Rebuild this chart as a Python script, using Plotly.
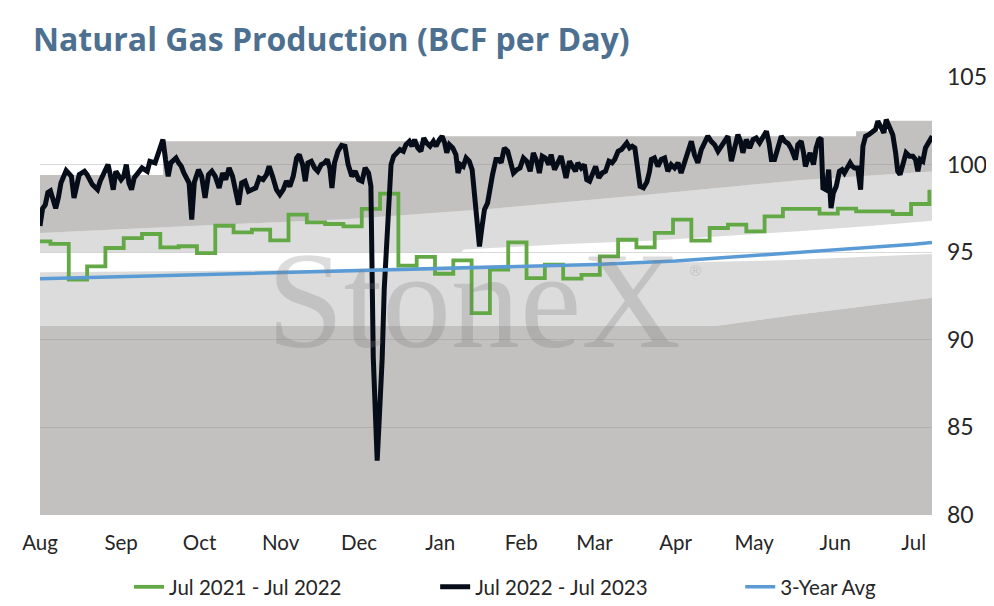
import plotly.graph_objects as go
import pandas as pd

# x positions are days since 1 Aug 2022 (the chart runs Aug -> early Jul)
start = pd.Timestamp("2022-08-01")

# Jul 2022 - Jul 2023 (daily)
black_days = [0, 1, 2, 3, 4, 5, 6, 7, 8, 10, 12, 13, 14, 15, 17, 18, 20, 22, 23, 25,
              26, 27, 28, 29, 31, 32, 33, 34, 35, 36, 38, 39, 41, 42, 44, 45, 46, 47, 48, 49,
              50, 52, 53, 54, 55, 56, 57, 58, 59, 60.6, 61.8, 63.1, 64.4, 65.7, 67, 68.5, 69.8, 71, 72.3, 73.6,
              74.9, 75.9, 77.1, 78.4, 79.7, 81.2, 82.5, 83.8, 85.3, 86.6, 87.6, 88.9, 90.4, 91.7, 93, 94.2, 95.5, 96.8, 98.1, 99.1,
              100.4, 101.4, 102.4, 103.7, 105, 106.2, 107.5, 108.8, 109.8, 110.8, 111.6, 112.6, 113.9, 115.3, 116.6, 117.8, 119.2, 120.5, 121.8, 123.1,
              124.3, 125.6, 126.5, 127.4, 128.2, 128.9, 129.7, 130.8, 131.6, 132.9, 134.2, 135.2, 136.3, 137.6, 138.9, 139.9, 141.2, 142.2, 143.2, 144.4,
              145.6, 146.7, 147.8, 149.1, 150.4, 151.4, 152.7, 153.7, 154.7, 155.5, 156.5, 157.8, 159, 159.8, 160.8, 161.8, 162.9, 164.1, 165.2, 166.1,
              167, 168, 169, 169.9, 171.1, 172, 173, 174.3, 175.4, 176.3, 177.5, 178.8, 179.7, 181, 182.3, 183.5, 184.8, 186.1, 187.4, 188.6,
              189.9, 190.9, 192, 193.2, 194.5, 195.4, 196.7, 197.9, 199.2, 200.1, 201.1, 202.4, 203.7, 204.7, 205.6, 206.9, 208.1, 209, 210.1, 211.3,
              212.4, 213.6, 214.9, 216.2, 217.5, 218.7, 219.7, 221, 222.3, 223.3, 224.3, 225.4, 226.4, 227.4, 228.4, 229.4, 230.7, 232, 233, 233.7,
              234.9, 236.2, 237.5, 238.8, 240, 241.3, 242.6, 243.9, 245.1, 246.4, 247.7, 249, 250.2, 251.5, 252.8, 254.1, 255.3, 256.6, 257.9, 259.2,
              260.4, 261.7, 263, 264.3, 265.5, 266.8, 267.8, 268.7, 270, 271.3, 272.6, 273.8, 275.1, 276.4, 277.7, 278.7, 279.6, 280.8, 282.1, 283.4,
              284.7, 286, 287.2, 288.8, 289.7, 291, 291.9, 292.6, 293.5, 294.4, 295.7, 296.7, 297.7, 298.6, 299.3, 300.5, 301.5, 302.4, 303.3, 304.4,
              305.6, 306.6, 307.5, 308.8, 309.7, 310.5, 311.4, 312.6, 313.7, 314.6, 315.6, 316.8, 318.1, 319.4, 320.3, 321.6, 322.6, 323.5, 324.8, 326,
              327.1, 327.9, 328.8, 329.8, 331.1, 332.4, 333.7, 334.7, 335.6, 336.5, 337.5, 338.5, 339.8, 341.1]
black_vals = [96.5, 97.5, 97.7, 98.4, 98.5, 98.1, 97.5, 98.1, 98.95, 99.66, 99.33, 98.1, 98.95, 99.43, 99.62, 99.43, 98.86, 98.57, 99.05, 99.71,
              100.0, 99.33, 98.57, 99.62, 99.14, 99.33, 100.0, 98.95, 98.57, 99.24, 99.62, 99.81, 99.62, 100.19, 100.1, 100.48, 100.86, 101.43, 100.29, 99.33,
              100.1, 100.38, 100.1, 99.9, 99.52, 99.14, 98.95, 96.86, 99.0, 99.71, 99.33, 98.1, 99.43, 99.62, 99.33, 98.67, 99.52, 99.14, 99.81, 99.33,
              98.29, 97.71, 98.95, 99.05, 98.48, 98.57, 98.67, 99.24, 99.14, 99.43, 99.9, 99.33, 98.57, 98.29, 98.57, 99.05, 98.76, 99.33, 100.38, 100.57,
              100.0, 99.05, 100.1, 100.19, 99.81, 99.62, 100.0, 100.1, 100.29, 99.81, 98.67, 100.1, 100.76, 101.1, 101.05, 100.0, 99.33, 99.62, 99.14, 99.05,
              99.81, 99.52, 98.76, 89.0, 85.0, 83.1, 85.5, 88.9, 92.9, 96.5, 100.0, 100.48, 100.67, 100.86, 100.76, 101.14, 101.33, 101.05, 101.43, 100.95,
              100.76, 101.52, 101.24, 101.05, 101.33, 101.05, 101.43, 101.62, 101.24, 100.67, 101.14, 100.95, 100.57, 99.52, 100.0, 99.9, 100.38, 100.19, 99.71, 98.19,
              96.48, 95.33, 96.48, 97.43, 97.81, 98.76, 99.43, 100.29, 100.29, 100.1, 100.95, 100.76, 100.29, 99.52, 99.71, 99.81, 100.38, 100.19, 99.62, 100.67,
              100.19, 99.52, 100.48, 100.38, 100.0, 100.57, 99.71, 100.1, 100.48, 99.9, 99.24, 100.19, 99.9, 99.62, 100.1, 99.81, 100.0, 99.14, 99.05, 99.52,
              99.9, 99.24, 99.52, 99.62, 100.19, 100.1, 100.29, 100.76, 100.86, 101.05, 101.24, 100.95, 101.05, 100.95, 99.9, 98.76, 98.67, 99.0, 99.6, 100.29,
              100.38, 99.9, 100.29, 100.38, 99.62, 100.0, 99.81, 100.1, 99.52, 100.19, 100.86, 101.33, 100.57, 100.1, 100.86, 101.24, 101.62, 101.33, 101.14, 100.76,
              101.05, 101.33, 101.62, 100.19, 101.05, 101.71, 101.33, 100.67, 101.43, 100.95, 101.43, 101.52, 101.24, 101.62, 101.9, 101.24, 100.29, 100.29, 101.05, 101.62,
              101.33, 101.2, 100.9, 100.29, 101.14, 101.33, 100.67, 99.9, 100.29, 100.67, 100.0, 100.95, 101.43, 101.52, 98.67, 98.57, 99.71, 97.52, 98.38, 98.76,
              99.62, 99.71, 99.52, 99.81, 100.1, 99.9, 99.81, 99.81, 98.57, 101.05, 101.62, 101.71, 101.9, 102.0, 102.48, 102.1, 101.81, 102.57, 102.19, 101.71,
              100.67, 99.62, 99.43, 99.9, 100.67, 100.48, 100.48, 100.29, 99.62, 100.29, 100.19, 100.95, 101.24, 101.62]

# Jul 2021 - Jul 2022 (weekly, plotted on this year's calendar)
green_dates = ["2022-08-01", "2022-08-05", "2022-08-12", "2022-08-19", "2022-08-26", "2022-09-02",
               "2022-09-09", "2022-09-16", "2022-09-23", "2022-09-30", "2022-10-07", "2022-10-14",
               "2022-10-21", "2022-10-28", "2022-11-04", "2022-11-11", "2022-11-18", "2022-11-25",
               "2022-12-02", "2022-12-09", "2022-12-16", "2022-12-23", "2022-12-30", "2023-01-06",
               "2023-01-13", "2023-01-20", "2023-01-27", "2023-02-03", "2023-02-10", "2023-02-17",
               "2023-02-24", "2023-03-03", "2023-03-10", "2023-03-17", "2023-03-24", "2023-03-31",
               "2023-04-07", "2023-04-14", "2023-04-21", "2023-04-28", "2023-05-05", "2023-05-12",
               "2023-05-19", "2023-05-26", "2023-06-02", "2023-06-09", "2023-06-16", "2023-06-23",
               "2023-06-30", "2023-07-07"]
green_vals = [95.62, 95.47, 93.43, 94.19, 95.24, 95.80, 96.04, 95.28, 95.34, 94.95, 96.51, 96.13,
              96.29, 95.68, 97.14, 96.70, 96.61, 96.47, 97.47, 98.34, 94.23, 94.73, 93.77, 94.53,
              91.52, 94.00, 95.56, 93.52, 94.29, 93.49, 93.71, 94.76, 95.71, 95.28, 96.10, 96.86,
              95.66, 96.38, 96.57, 96.19, 97.05, 97.47, 97.47, 97.20, 97.49, 97.33, 97.33, 97.18,
              97.75, 98.57]

# 3-year average
avg_dates = ["2022-08-01", "2022-09-01", "2022-10-01", "2022-11-01", "2022-12-01", "2023-01-01",
             "2023-02-01", "2023-03-01", "2023-04-01", "2023-05-01", "2023-06-01", "2023-07-01", "2023-07-08"]
avg_vals = [93.49, 93.61, 93.72, 93.86, 93.95, 94.07, 94.17, 94.30, 94.50, 94.80, 95.12, 95.45, 95.55]

# grey range bands (edges, bottom to top)
edge1_days = [0, 259, 290, 317, 341]
edge1_vals = [90.8, 90.8, 91.45, 91.95, 92.4]
edge2_days = [0, 110, 174, 240, 287, 341]
edge2_vals = [93.85, 94.0, 94.2, 94.4, 94.55, 94.9]
edge3_days = [0, 161, 162, 199, 233, 260, 290, 317, 341]
edge3_vals = [95.0, 95.0, 95.15, 95.45, 95.65, 95.9, 96.2, 96.5, 96.8]
edge4_days = [0, 60, 118, 137, 174, 233, 290, 341]
edge4_vals = [96.1, 96.5, 96.9, 97.1, 97.5, 98.3, 99.1, 99.6]
edge5_days = [0, 47, 154, 312, 325, 341]
edge5_vals = [99.4, 101.33, 101.62, 101.9, 102.5, 102.5]


def to_dates(days):
    return start + pd.to_timedelta(days, unit="D")


DARK = "rgba(140,136,134,0.52)"
LIGHT = "rgba(185,185,185,0.5)"

fig = go.Figure()

fig.add_trace(go.Scatter(x=to_dates(edge1_days), y=edge1_vals, fill="tozeroy", fillcolor=DARK,
                         line=dict(width=0), mode="lines", showlegend=False, hoverinfo="skip"))
fig.add_trace(go.Scatter(x=to_dates(edge2_days), y=edge2_vals, fill="tonexty", fillcolor=LIGHT,
                         line=dict(width=0), mode="lines", showlegend=False, hoverinfo="skip"))
fig.add_trace(go.Scatter(x=to_dates(edge3_days), y=edge3_vals,
                         line=dict(width=0), mode="lines", showlegend=False, hoverinfo="skip"))
fig.add_trace(go.Scatter(x=to_dates(edge4_days), y=edge4_vals, fill="tonexty", fillcolor=LIGHT,
                         line=dict(width=0), mode="lines", showlegend=False, hoverinfo="skip"))
fig.add_trace(go.Scatter(x=to_dates(edge5_days), y=edge5_vals, fill="tonexty", fillcolor=DARK,
                         line=dict(width=0, shape="hv"), mode="lines", showlegend=False, hoverinfo="skip"))

fig.add_trace(go.Scatter(x=pd.to_datetime(green_dates), y=green_vals, mode="lines", legend="legend",
                         name="Jul 2021 - Jul 2022", line=dict(color="#62a845", width=3.8, shape="hv")))
fig.add_trace(go.Scatter(x=to_dates(black_days), y=black_vals, mode="lines", legend="legend2",
                         name="Jul 2022 - Jul 2023", line=dict(color="#070d18", width=5)))
fig.add_trace(go.Scatter(x=pd.to_datetime(avg_dates), y=avg_vals, mode="lines", legend="legend3",
                         name="3-Year Avg", line=dict(color="#5b9bd5", width=3.5)))

fig.add_annotation(text="StoneX", xref="paper", yref="paper", x=0.487, y=0.49,
                   showarrow=False, font=dict(family="Liberation Serif", size=138,
                                              color="rgba(120,120,120,0.26)"))
fig.add_annotation(text="®", xref="paper", yref="paper", x=0.743, y=0.558,
                   showarrow=False, font=dict(family="Liberation Sans", size=15,
                                              color="rgba(120,120,120,0.3)"))

# the page has an 8px body margin, so the figure is 8px smaller than the window
legend_style = dict(orientation="h", xanchor="left", yref="container", y=1 - 579 / 598,
                    yanchor="middle", font=dict(size=20.5), bgcolor="rgba(0,0,0,0)",
                    traceorder="normal")
fig.update_layout(
    width=986, height=598,
    margin=dict(l=32, r=62, t=69, b=91),
    paper_bgcolor="white", plot_bgcolor="white",
    font=dict(family="Lato", size=20, color="#262626"),
    title=dict(text="<b>Natural Gas Production (BCF per Day)</b>", x=25 / 986, xanchor="left",
               y=1 - 32 / 598, yanchor="middle",
               font=dict(family="Open Sans", size=32, color="#4d7090")),
    showlegend=True,
    legend=dict(x=0.0998, **legend_style),
    legend2=dict(x=0.443, **legend_style),
    legend3=dict(x=0.785, **legend_style),
    hovermode=False,
)
fig.update_xaxes(range=[start, start + pd.Timedelta(days=341)], tickformat="%b", dtick="M1",
                 tick0="2022-08-01", showgrid=False, zeroline=False, showline=False,
                 ticks="", ticklabelstandoff=13, tickfont=dict(size=20.5), automargin=False)
fig.update_yaxes(range=[80, 105], dtick=5, side="right", showgrid=True, gridcolor="#d9d9d9",
                 gridwidth=1.3, zeroline=False, showline=False, ticks="", ticklabelstandoff=14,
                 tickfont=dict(size=23), automargin=False)

fig.write_html("out.html")
